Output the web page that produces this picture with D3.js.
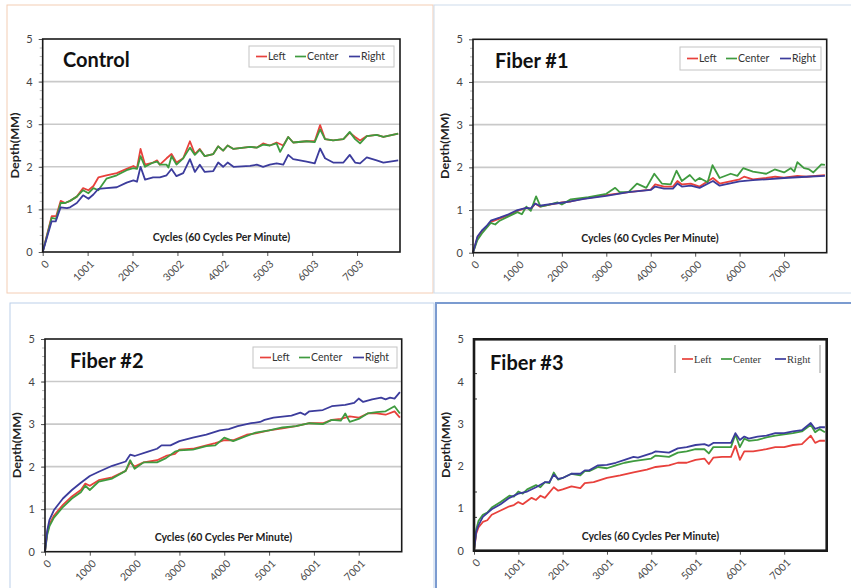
<!DOCTYPE html>
<html>
<head>
<meta charset="utf-8">
<script src="https://cdn.jsdelivr.net/npm/d3@7"></script>
<style>
  body { margin: 0; background: #fff; }
  svg { display: block; font-family: Lato, "Open Sans", sans-serif; }
</style>
</head>
<body>
<div id="chart"></div>
<script>
// series names and colours
const seriesNames = ["Left", "Center", "Right"];
const seriesColors = ["#e8413c", "#3f9b3f", "#3c3c9c"];

// x tick labels of each panel
const controlTicks = [0, 1001, 2001, 3002, 4002, 5003, 6003, 7003];
const fiber1Ticks = [0, 1000, 2000, 3000, 4000, 5000, 6000, 7000];
const fiber2Ticks = [0, 1000, 2000, 3000, 4000, 5001, 6001, 7001];
const fiber3Ticks = [0, 1001, 2001, 3001, 4001, 5001, 6001, 7001];

// [cycles, depth in mm]
const controlLeft = [[0,0],[200,0.84],[300,0.84],[400,1.2],[500,1.15],[610,1.2],[760,1.3],[900,1.5],[1020,1.45],[1130,1.55],[1240,1.75],[1420,1.8],[1650,1.85],[1870,1.95],[2020,2.02],[2100,1.97],[2180,2.42],[2280,2.05],[2460,2.1],[2550,2.15],[2610,2.05],[2760,2.2],[2870,2.3],[2980,2.1],[3130,2.2],[3280,2.6],[3390,2.3],[3500,2.42],[3610,2.25],[3800,2.3],[3910,2.48],[4020,2.38],[4120,2.5],[4250,2.42],[4620,2.47],[4770,2.45],[4910,2.55],[5060,2.5],[5210,2.57],[5360,2.5],[5470,2.7],[5580,2.57],[5880,2.6],[6060,2.6],[6180,2.98],[6290,2.65],[6470,2.62],[6700,2.65],[6840,2.8],[6960,2.7],[7070,2.62],[7220,2.72],[7440,2.75],[7590,2.7],[7920,2.78]];
const controlCenter = [[0,0],[200,0.8],[300,0.78],[400,1.15],[500,1.15],[610,1.2],[760,1.3],[900,1.45],[1020,1.38],[1130,1.5],[1240,1.45],[1420,1.72],[1650,1.8],[1870,1.92],[2020,1.97],[2100,1.95],[2180,2.25],[2280,2.0],[2460,2.1],[2550,2.12],[2610,2.05],[2760,2.05],[2800,1.98],[2870,2.25],[2980,2.05],[3130,2.2],[3280,2.45],[3390,2.28],[3500,2.4],[3610,2.25],[3800,2.3],[3910,2.48],[4020,2.38],[4120,2.5],[4250,2.42],[4620,2.47],[4770,2.45],[4910,2.52],[5060,2.5],[5210,2.55],[5290,2.35],[5470,2.7],[5580,2.57],[5880,2.6],[6060,2.58],[6180,2.88],[6290,2.65],[6470,2.62],[6700,2.65],[6840,2.82],[6960,2.65],[7070,2.55],[7220,2.72],[7440,2.75],[7590,2.7],[7920,2.78]];
const controlRight = [[0,0],[200,0.72],[290,0.72],[400,1.05],[540,1.03],[610,1.05],[760,1.15],[900,1.33],[1020,1.25],[1130,1.35],[1240,1.48],[1420,1.5],[1650,1.52],[1870,1.63],[2020,1.68],[2100,1.65],[2180,2.0],[2280,1.7],[2460,1.75],[2610,1.75],[2760,1.8],[2870,1.95],[2980,1.78],[3130,1.85],[3280,2.18],[3390,1.88],[3500,2.05],[3610,1.88],[3800,1.9],[3910,2.1],[4020,2.0],[4120,2.1],[4250,2.0],[4620,2.02],[4770,2.05],[4910,2.0],[5060,2.05],[5210,2.08],[5360,2.05],[5470,2.28],[5580,2.18],[5880,2.12],[6060,2.08],[6180,2.43],[6290,2.2],[6470,2.1],[6700,2.1],[6840,2.28],[6960,2.1],[7070,2.08],[7220,2.22],[7440,2.15],[7590,2.1],[7920,2.15]];

const fiber1Left = [[0,0],[100,0.35],[200,0.5],[300,0.6],[400,0.72],[600,0.8],[800,0.88],[1000,0.98],[1200,1.05],[1300,1.02],[1400,1.15],[1500,1.08],[1700,1.12],[2000,1.18],[2200,1.2],[2500,1.27],[3000,1.35],[3500,1.42],[4000,1.48],[4100,1.6],[4300,1.55],[4500,1.55],[4600,1.68],[4700,1.6],[4900,1.62],[5100,1.55],[5400,1.75],[5550,1.62],[6000,1.72],[6100,1.78],[6300,1.72],[6600,1.75],[6800,1.78],[7000,1.76],[7300,1.8],[7500,1.78],[7700,1.8],[7920,1.82]];
const fiber1Center = [[0,0],[100,0.3],[200,0.45],[400,0.7],[500,0.66],[600,0.75],[800,0.85],[1000,0.95],[1100,0.9],[1200,1.08],[1300,0.98],[1420,1.32],[1520,1.08],[1700,1.12],[1900,1.18],[2000,1.13],[2200,1.25],[2600,1.3],[3000,1.38],[3200,1.52],[3300,1.42],[3500,1.42],[3690,1.62],[3900,1.52],[4080,1.85],[4250,1.62],[4450,1.6],[4580,1.92],[4700,1.68],[4880,1.82],[5000,1.68],[5100,1.75],[5280,1.65],[5390,2.05],[5550,1.75],[5800,1.85],[5950,1.8],[6080,1.98],[6300,1.9],[6600,1.85],[6790,1.95],[7000,1.88],[7150,1.98],[7230,1.9],[7300,2.12],[7450,1.98],[7550,1.96],[7660,1.88],[7840,2.07],[7920,2.06]];
const fiber1Right = [[0,0],[100,0.38],[200,0.52],[300,0.62],[400,0.75],[600,0.82],[800,0.9],[1000,1.0],[1200,1.05],[1300,1.04],[1400,1.15],[1500,1.1],[1700,1.13],[2000,1.17],[2200,1.2],[2500,1.26],[3000,1.33],[3500,1.42],[4000,1.47],[4100,1.55],[4300,1.5],[4500,1.5],[4600,1.62],[4700,1.55],[4900,1.57],[5100,1.52],[5400,1.68],[5550,1.57],[6000,1.67],[6300,1.7],[6600,1.72],[7000,1.75],[7500,1.78],[7920,1.8]];

const fiber2Left = [[0,0],[50,0.45],[100,0.65],[200,0.85],[400,1.1],[600,1.3],[800,1.45],[900,1.6],[1000,1.55],[1200,1.68],[1500,1.75],[1800,1.9],[1900,2.1],[2000,2.0],[2200,2.1],[2500,2.15],[2700,2.25],[2900,2.3],[3000,2.4],[3300,2.42],[3600,2.5],[3800,2.55],[4000,2.62],[4200,2.62],[4500,2.75],[4700,2.78],[5000,2.85],[5300,2.9],[5600,2.95],[5900,3.02],[6200,3.02],[6400,3.1],[6600,3.12],[6800,3.18],[7000,3.15],[7200,3.25],[7400,3.25],[7600,3.22],[7800,3.3],[7920,3.15]];
const fiber2Center = [[0,0],[50,0.4],[100,0.6],[200,0.8],[400,1.05],[600,1.25],[800,1.4],[900,1.55],[1000,1.45],[1200,1.65],[1500,1.72],[1800,1.9],[1900,2.15],[2000,1.95],[2200,2.1],[2500,2.1],[2700,2.2],[2900,2.35],[3000,2.38],[3300,2.4],[3600,2.48],[3800,2.5],[4000,2.68],[4200,2.6],[4500,2.72],[4700,2.8],[5000,2.85],[5300,2.92],[5600,2.95],[5900,3.02],[6200,3.0],[6400,3.1],[6600,3.08],[6700,3.25],[6800,3.05],[7000,3.12],[7200,3.25],[7400,3.28],[7600,3.3],[7800,3.42],[7920,3.25]];
const fiber2Right = [[0,0],[50,0.5],[100,0.75],[200,0.98],[400,1.25],[600,1.45],[800,1.62],[1000,1.78],[1200,1.88],[1500,2.02],[1800,2.12],[1900,2.28],[2000,2.25],[2300,2.35],[2500,2.42],[2600,2.5],[2800,2.5],[3000,2.6],[3300,2.68],[3600,2.75],[3900,2.85],[4100,2.88],[4300,2.95],[4600,3.02],[4800,3.05],[4900,3.1],[5100,3.15],[5500,3.2],[5700,3.27],[5800,3.22],[5900,3.3],[6200,3.33],[6400,3.42],[6700,3.45],[6900,3.5],[7000,3.6],[7100,3.52],[7300,3.58],[7500,3.62],[7600,3.58],[7700,3.62],[7800,3.6],[7920,3.75]];

const fiber3Left = [[0,0],[50,0.4],[100,0.55],[200,0.68],[300,0.72],[400,0.85],[600,0.95],[800,1.05],[900,1.08],[1000,1.15],[1100,1.1],[1300,1.25],[1400,1.2],[1500,1.3],[1600,1.25],[1800,1.5],[1900,1.42],[2000,1.45],[2200,1.52],[2400,1.48],[2500,1.6],[2700,1.62],[3000,1.72],[3300,1.78],[3600,1.85],[3900,1.92],[4100,1.98],[4400,2.02],[4600,2.08],[4800,2.08],[5000,2.15],[5200,2.18],[5300,2.05],[5400,2.2],[5600,2.22],[5800,2.22],[5900,2.48],[6000,2.15],[6100,2.35],[6300,2.35],[6600,2.4],[6800,2.45],[7000,2.45],[7200,2.5],[7400,2.52],[7600,2.72],[7700,2.55],[7800,2.6],[7920,2.6]];
const fiber3Center = [[0,0],[50,0.5],[100,0.7],[200,0.85],[300,0.9],[400,1.02],[600,1.15],[800,1.3],[900,1.28],[1000,1.4],[1100,1.35],[1200,1.45],[1400,1.55],[1500,1.5],[1600,1.62],[1700,1.6],[1800,1.85],[1900,1.68],[2000,1.72],[2200,1.82],[2400,1.78],[2500,1.88],[2600,1.88],[2800,1.98],[3000,1.95],[3200,2.02],[3400,2.08],[3600,2.12],[3800,2.15],[4000,2.18],[4100,2.25],[4400,2.22],[4600,2.32],[4800,2.35],[5000,2.4],[5200,2.4],[5300,2.3],[5400,2.45],[5600,2.45],[5800,2.45],[5900,2.75],[6000,2.45],[6100,2.65],[6200,2.6],[6400,2.62],[6600,2.68],[6800,2.72],[7000,2.75],[7200,2.78],[7400,2.82],[7600,2.98],[7700,2.8],[7800,2.88],[7920,2.8]];
const fiber3Right = [[0,0],[50,0.45],[100,0.6],[200,0.8],[400,0.98],[600,1.1],[800,1.25],[1000,1.35],[1200,1.4],[1400,1.5],[1600,1.62],[1700,1.62],[1800,1.8],[1900,1.7],[2000,1.72],[2200,1.82],[2400,1.82],[2500,1.9],[2600,1.9],[2800,2.02],[3000,2.03],[3200,2.08],[3400,2.15],[3600,2.22],[3700,2.2],[4000,2.3],[4100,2.35],[4400,2.32],[4600,2.42],[4800,2.45],[5000,2.5],[5200,2.52],[5300,2.48],[5400,2.55],[5600,2.55],[5800,2.55],[5900,2.78],[6000,2.62],[6100,2.7],[6200,2.65],[6400,2.7],[6600,2.72],[6800,2.78],[7000,2.78],[7200,2.82],[7400,2.85],[7600,3.02],[7700,2.88],[7800,2.92],[7920,2.92]];

const yTicks = [0, 1, 2, 3, 4, 5];

// panel layout (frame box, plot box, title, legend)
const panels = [
  {title: "Control", series: [controlLeft, controlCenter, controlRight], ticks: controlTicks,
   frame: [7, 5, 433, 293], frameColor: "#f4cdb4", frameWidth: 1,
   plot: [42.7, 39, 400, 252], titleXY: [63, 67], grid: true, axisWidth: 1.6,
   legend: {x: 249, y: 46, w: 145, h: 21, box: true, font: "Lato"}},
  {title: "Fiber #1", series: [fiber1Left, fiber1Center, fiber1Right], ticks: fiber1Ticks,
   frame: [434, 5, 852, 293], frameColor: "#cddcec", frameWidth: 1,
   plot: [473, 39.3, 826.7, 252.7], titleXY: [495, 68], grid: true, axisWidth: 1.6,
   legend: {x: 680, y: 47, w: 141, h: 23, box: true, font: "Lato"}},
  {title: "Fiber #2", series: [fiber2Left, fiber2Center, fiber2Right], ticks: fiber2Ticks,
   frame: [10, 303, 434, 600], frameColor: "#bcd0ea", frameWidth: 1,
   plot: [45, 339, 401.7, 551.7], titleXY: [70, 368], grid: true, axisWidth: 1.6,
   legend: {x: 253, y: 347, w: 144, h: 21, box: true, font: "Lato"}},
  {title: "Fiber #3", series: [fiber3Left, fiber3Center, fiber3Right], ticks: fiber3Ticks,
   frame: [436, 303, 860, 600], frameColor: "#7b9bd0", frameWidth: 2,
   plot: [474, 339.3, 826.7, 550.7], titleXY: [490, 370], grid: false, axisWidth: 2.6,
   legend: {x: 675, y: 345, w: 145, h: 28, box: false, font: "Liberation Serif"}}
];

const svg = d3.select("#chart").append("svg")
  .attr("width", 851).attr("height", 588);

panels.forEach((p) => {
  const [fx0, fy0, fx1, fy1] = p.frame;
  svg.append("rect")
    .attr("x", fx0).attr("y", fy0)
    .attr("width", fx1 - fx0).attr("height", fy1 - fy0)
    .attr("fill", "#fff")
    .attr("stroke", p.frameColor).attr("stroke-width", p.frameWidth);
});

panels.forEach((p) => {
  const [left, top, right, bottom] = p.plot;
  const x = d3.scaleLinear().domain([0, 7960]).range([left, right]);
  const y = d3.scaleLinear().domain([0, 5]).range([bottom, top]);
  const g = svg.append("g");

  // gridlines
  if (p.grid) {
    g.append("g").selectAll("line").data(yTicks.filter((d) => d > 0 && d < 5)).join("line")
      .attr("x1", left).attr("x2", right)
      .attr("y1", (d) => y(d)).attr("y2", (d) => y(d))
      .attr("stroke", "#c9c9c9").attr("stroke-width", 1.6);
  }

  // y minor ticks
  const minor = p.grid ? d3.range(0.2, 5, 0.2) : [0.8, 1.4, 3.6, 4.2];
  g.append("g").attr("transform", "translate(" + left + ",0)")
    .call(p.grid ? d3.axisLeft(y).tickValues(minor).tickSize(3).tickFormat("")
                 : d3.axisRight(y).tickValues(minor).tickSize(3).tickFormat(""))
    .call((a) => a.select(".domain").remove())
    .call((a) => a.selectAll("line").attr("stroke", p.grid ? "#bbb" : "#333"));

  // y axis
  g.append("g").attr("transform", "translate(" + left + ",0)")
    .call(d3.axisLeft(y).tickValues(yTicks).tickSize(p.grid ? 4 : 0).tickPadding(p.grid ? 6 : 10).tickFormat(d3.format("d")))
    .call((a) => a.select(".domain").remove())
    .call((a) => a.selectAll("line").attr("stroke", "#555"))
    .call((a) => a.selectAll("text").attr("font-size", 11).attr("fill", "#444")
      .attr("font-family", "Lato, sans-serif"));

  // x axis
  g.append("g").attr("transform", "translate(0," + bottom + ")")
    .call(d3.axisBottom(x).tickValues(p.ticks).tickSize(4).tickFormat(d3.format("d")))
    .call((a) => a.select(".domain").remove())
    .call((a) => a.selectAll("line").attr("stroke", "#555"))
    .call((a) => a.selectAll("text")
      .attr("x", 0).attr("y", 0).attr("dy", "0.35em")
      .attr("text-anchor", "end")
      .attr("transform", "translate(4,10) rotate(-45)")
      .attr("font-size", 10.5).attr("fill", "#4a4a4a")
      .attr("font-family", "Lato, sans-serif"));

  // x axis title inside plot
  g.append("text")
    .attr("x", (left + right) / 2).attr("y", bottom - 11)
    .attr("text-anchor", "middle")
    .attr("font-size", 10.5).attr("font-weight", "bold").attr("fill", "#222")
    .text("Cycles (60 Cycles Per Minute)");

  // y axis title
  g.append("text")
    .attr("transform", "translate(" + (left - 24) + "," + ((top + bottom) / 2) + ") rotate(-90)")
    .attr("text-anchor", "middle")
    .attr("font-size", 10.5).attr("font-weight", "bold").attr("fill", "#222")
    .attr("textLength", 66).attr("lengthAdjust", "spacingAndGlyphs")
    .text("Depth(MM)");

  // lines
  const line = d3.line().x((d) => x(d[0])).y((d) => y(d[1]));
  p.series.forEach((s, i) => {
    g.append("path").datum(s)
      .attr("fill", "none")
      .attr("stroke", seriesColors[i])
      .attr("stroke-width", 1.8)
      .attr("stroke-linejoin", "round")
      .attr("d", line);
  });

  // plot frame
  g.append("rect")
    .attr("x", left).attr("y", top)
    .attr("width", right - left).attr("height", bottom - top)
    .attr("fill", "none").attr("stroke", "#1a1a1a").attr("stroke-width", p.axisWidth);

  // panel title
  g.append("text")
    .attr("x", p.titleXY[0]).attr("y", p.titleXY[1])
    .attr("font-size", 20).attr("font-weight", "bold").attr("fill", "#111")
    .text(p.title);

  // legend
  const L = p.legend;
  const lg = g.append("g").attr("transform", "translate(" + L.x + "," + L.y + ")");
  if (L.box) {
    lg.append("rect").attr("width", L.w).attr("height", L.h)
      .attr("fill", "#fff").attr("stroke", "#c4c4c4").attr("stroke-width", 1);
  } else {
    [0, L.w].forEach((vx) => lg.append("line")
      .attr("x1", vx).attr("x2", vx).attr("y1", 0).attr("y2", L.h)
      .attr("stroke", "#bbb").attr("stroke-width", 1.5));
  }
  const offsets = [7, 46, 100];
  seriesNames.forEach((name, i) => {
    const ox = offsets[i];
    lg.append("line")
      .attr("x1", ox).attr("x2", ox + 11)
      .attr("y1", L.h / 2).attr("y2", L.h / 2)
      .attr("stroke", seriesColors[i]).attr("stroke-width", 1.7);
    lg.append("text")
      .attr("x", ox + 12).attr("y", L.h / 2).attr("dy", "0.35em")
      .attr("font-size", 10.5).attr("fill", "#333")
      .attr("font-family", L.font + ", sans-serif")
      .text(name);
  });
});
</script>
</body>
</html>
